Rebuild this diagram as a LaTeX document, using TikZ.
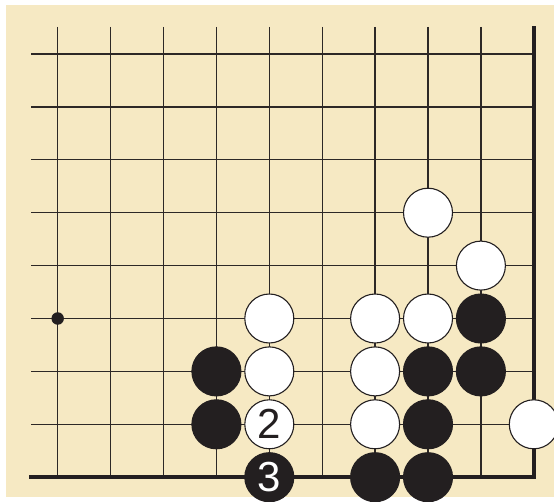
\documentclass[tikz,border=0pt]{standalone}
\usepackage{fontspec}
\setmainfont{Liberation Sans}
\definecolor{boardbg}{RGB}{246,233,195}
\definecolor{gridc}{RGB}{45,40,38}
\definecolor{stoneblack}{RGB}{35,31,32}
\begin{document}
\begin{tikzpicture}[x=1pt,y=-1pt,
  gridline/.style={draw=gridc,line width=1.3pt},
  edgeline/.style={draw=stoneblack,line width=4.2pt},
  wstone/.style={circle,draw=stoneblack,fill=white,line width=1.1pt,minimum size=49pt,inner sep=0pt,font=\fontsize{42}{42}\selectfont,text=stoneblack},
  bstone/.style={circle,draw=stoneblack,fill=stoneblack,line width=1.1pt,minimum size=49pt,inner sep=0pt,font=\fontsize{42}{42}\selectfont,text=white},
  hoshi/.style={circle,fill=stoneblack,minimum size=12.5pt,inner sep=0pt}]
\useasboundingbox (0,0) rectangle (554,502);
\fill[boardbg] (6,5) rectangle (554,497);
\def\gx{57.7}\def\gs{52.9}\def\gy{54}
% vertical lines
\foreach \i in {0,...,8}{
  \draw[gridline] ({\gx+\i*\gs},27) -- ({\gx+\i*\gs},477.2);
}
% horizontal lines
\foreach \j in {0,...,7}{
  \draw[gridline] (31,{\gy+\j*\gs}) -- ({\gx+9*\gs},{\gy+\j*\gs});
}
% edges
\draw[edgeline] (29,477.2) -- ({\gx+9*\gs},477.2) -- ({\gx+9*\gs},26);
% star point
\node[hoshi] (h) at ({\gx},{\gy+5*\gs}) {};
% stones
\newcommand{\wst}[3][]{\node[wstone] (w#2#3) at ({\gx+#2*\gs},{\gy+#3*\gs}) {#1};}
\newcommand{\bst}[3][]{\node[bstone] (b#2#3) at ({\gx+#2*\gs},{\gy+#3*\gs}) {#1};}
\wst{7}{3}
\wst{8}{4}
\wst{4}{5}\wst{6}{5}\wst{7}{5}\bst{8}{5}
\bst{3}{6}\wst{4}{6}\wst{6}{6}\bst{7}{6}\bst{8}{6}
\bst{3}{7}\wst[2]{4}{7}\wst{6}{7}\bst{7}{7}\wst{9}{7}
\bst[3]{4}{8}\bst{6}{8}\bst{7}{8}
\end{tikzpicture}
\end{document}
